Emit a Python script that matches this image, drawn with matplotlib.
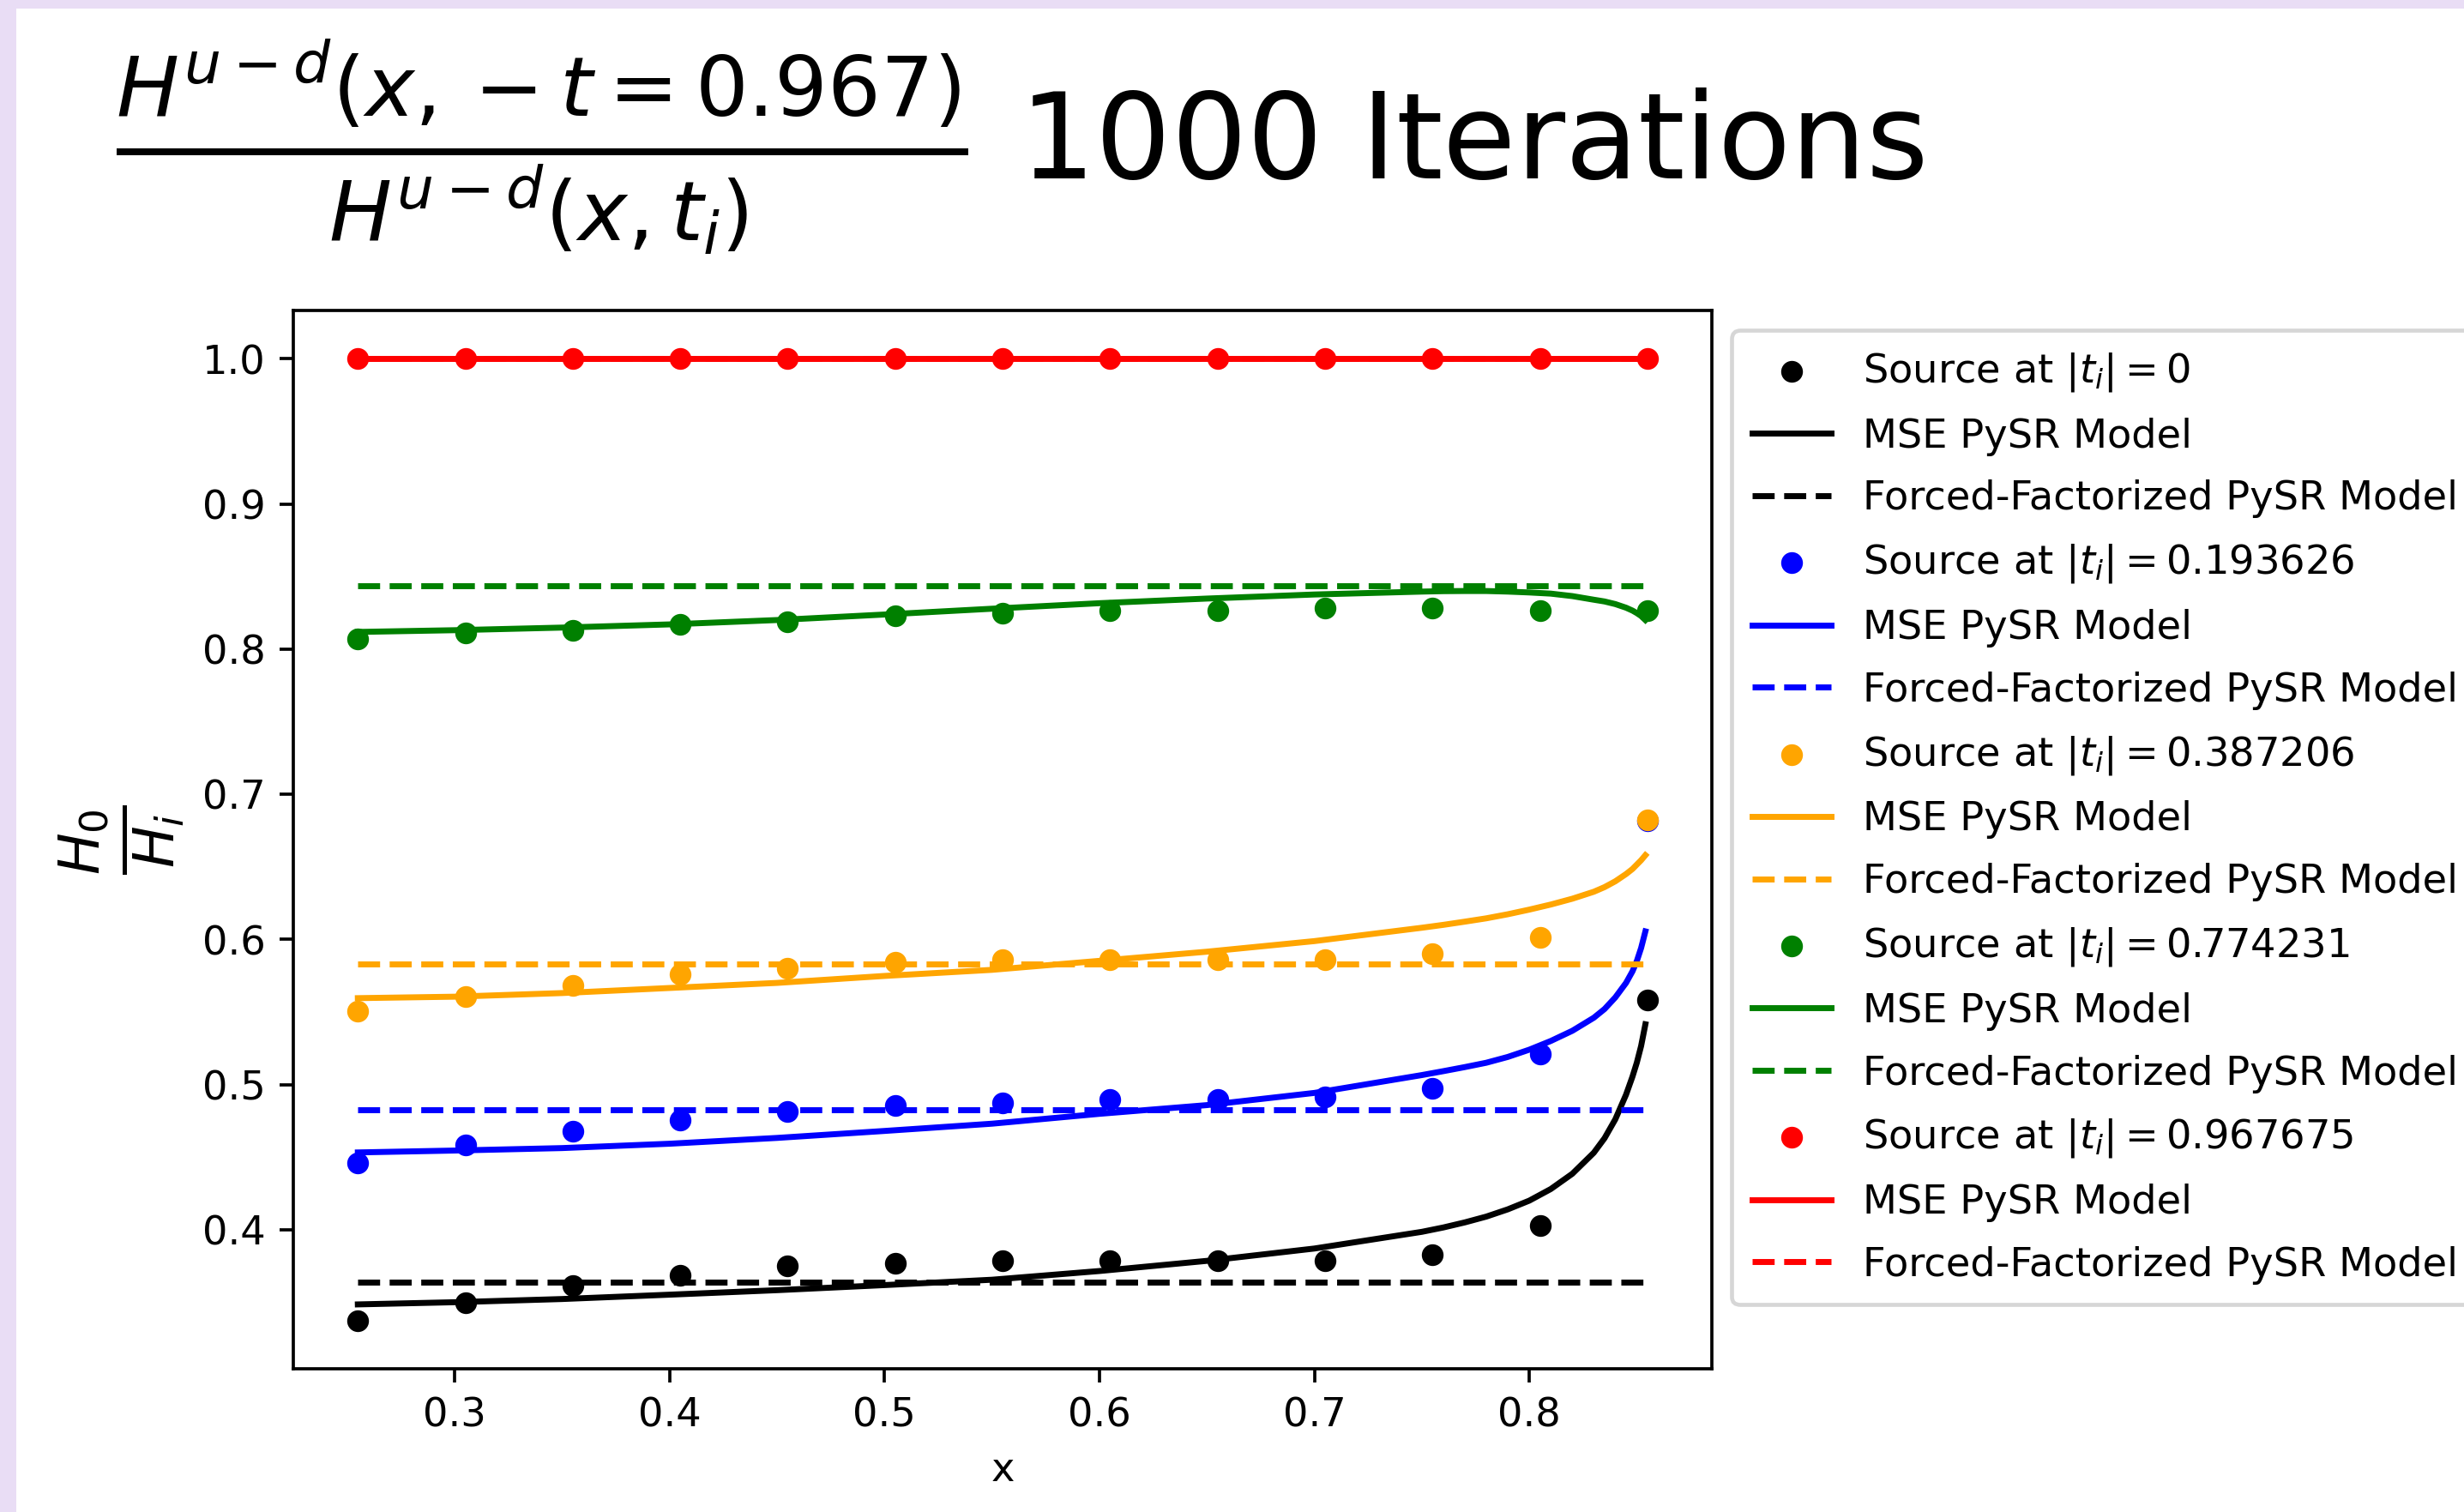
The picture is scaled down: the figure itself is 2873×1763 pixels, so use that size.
import matplotlib
matplotlib.use("Agg")
import matplotlib.pyplot as plt
from matplotlib.patches import Rectangle

# ---------------- data ----------------
t_labels = ["0", "0.193626", "0.387206", "0.774231", "0.967675"]
colors = ["black", "blue", "orange", "green", "red"]

x_src = [0.255, 0.305, 0.355, 0.405, 0.455, 0.505, 0.555, 0.605, 0.655, 0.705, 0.755, 0.805, 0.855]

src_t0 = [0.3373, 0.3497, 0.3612, 0.3686, 0.3749, 0.3770, 0.3786, 0.3786, 0.3786, 0.3786, 0.3826, 0.4027, 0.5583]
src_t1 = [0.4460, 0.4583, 0.4678, 0.4756, 0.4814, 0.4854, 0.4873, 0.4897, 0.4897, 0.4913, 0.4972, 0.5208, 0.6820]
src_t2 = [0.5504, 0.5604, 0.5681, 0.5762, 0.5803, 0.5845, 0.5858, 0.5858, 0.5858, 0.5862, 0.5901, 0.6016, 0.6823]
src_t3 = [0.8068, 0.8110, 0.8129, 0.8168, 0.8186, 0.8227, 0.8250, 0.8265, 0.8265, 0.8285, 0.8285, 0.8265, 0.8265]
src_t4 = [1.0, 1.0, 1.0, 1.0, 1.0, 1.0, 1.0, 1.0, 1.0, 1.0, 1.0, 1.0, 1.0]

x_mse = [0.255, 0.30, 0.35, 0.40, 0.45, 0.50, 0.55, 0.60, 0.65, 0.70, 0.75, 0.76, 0.77, 0.78, 0.79,
         0.80, 0.81, 0.82, 0.83, 0.835, 0.84, 0.845, 0.848, 0.85, 0.852, 0.854]
mse_t0 = [0.3485, 0.3500, 0.3522, 0.3552, 0.3583, 0.3618, 0.3655, 0.3715, 0.3785, 0.3870, 0.3985,
          0.4015, 0.4050, 0.4090, 0.4140, 0.4200, 0.4280, 0.4385, 0.4530, 0.4630, 0.4760, 0.4930,
          0.5055, 0.5150, 0.5265, 0.5415]
mse_t1 = [0.4532, 0.4545, 0.4562, 0.4592, 0.4632, 0.4680, 0.4730, 0.4798, 0.4858, 0.4942, 0.5065,
          0.5092, 0.5120, 0.5150, 0.5190, 0.5240, 0.5300, 0.5370, 0.5460, 0.5520, 0.5600, 0.5700,
          0.5780, 0.5850, 0.5940, 0.6055]
mse_t2 = [0.5595, 0.5605, 0.5630, 0.5665, 0.5700, 0.5748, 0.5790, 0.5852, 0.5915, 0.5988, 0.6080,
          0.6100, 0.6122, 0.6145, 0.6173, 0.6205, 0.6240, 0.6280, 0.6328, 0.6360, 0.6400, 0.6450,
          0.6485, 0.6515, 0.6545, 0.6580]
mse_t3 = [0.8118, 0.8130, 0.8148, 0.8170, 0.8200, 0.8238, 0.8278, 0.8316, 0.8348, 0.8376, 0.8396,
          0.8399, 0.8400, 0.8400, 0.8396, 0.8390, 0.8382, 0.8365, 0.8340, 0.8328, 0.8310, 0.8285,
          0.8265, 0.8248, 0.8228, 0.8200]
mse_t4 = [1.0] * 26

forced_values = [0.3640, 0.4825, 0.5829, 0.8434, 1.0]

sources = [src_t0, src_t1, src_t2, src_t3, src_t4]
mses = [mse_t0, mse_t1, mse_t2, mse_t3, mse_t4]

# ---------------- figure ----------------
W, H = 2873, 1763
DPI = 333.5
fig = plt.figure(figsize=((W + 0.3) / DPI, (H + 0.3) / DPI), dpi=DPI)
fig.patch.set_facecolor("#e9ddf5")
fig.add_artist(Rectangle((19 / W, 0), 1, 1 - 10 / H, transform=fig.transFigure,
                         facecolor="white", edgecolor="none", zorder=-10))

ax = fig.add_axes([342 / W, (H - 1596) / H, 1654 / W, 1233.5 / H])

for tl, c, src, mse, fv in zip(t_labels, colors, sources, mses, forced_values):
    ax.scatter(x_src, src, color=c, s=20, label=r"Source at $|t_i| = %s$" % tl)
    ax.plot(x_mse, mse, color=c, lw=1.5, label="MSE PySR Model")
    ax.plot(x_src, [fv] * len(x_src), color=c, lw=1.5, ls="--",
            label="Forced-Factorized PySR Model")

ax.set_xlabel("x", fontsize=10)
ax.set_ylabel(r"$\frac{H_0}{H_i}$", fontsize=20)
ax.set_title(r"$\frac{H^{u-d}(x, -t=0.967)}{H^{u-d}(x,t_i)}$ 1000 Iterations",
             fontsize=30, pad=33, x=0.512)
ax.legend(loc="upper left", bbox_to_anchor=(1, 1), fontsize=10,
          labelspacing=0.6, borderpad=0.5)

fig.savefig("out.png", dpi=DPI)
